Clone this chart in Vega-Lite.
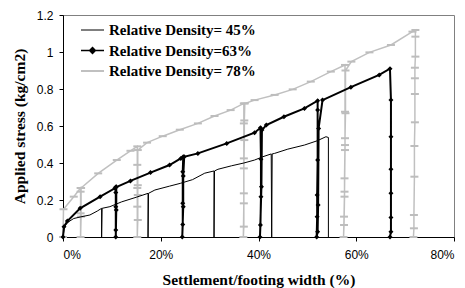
{
  "$schema": "https://vega.github.io/schema/vega-lite/v6.json",
  "width": 391,
  "height": 222,
  "autosize": {"type": "none"},
  "padding": {"left": 63, "top": 15, "right": 11, "bottom": 51},
  "background": "white",
  "config": {
    "view": {"stroke": "#808080", "strokeWidth": 1},
    "axis": {
      "grid": false,
      "domainColor": "black",
      "tickColor": "black",
      "tickSize": 4,
      "labelFont": "Liberation Sans",
      "labelFontSize": 12,
      "labelColor": "black",
      "titleFont": "Liberation Serif",
      "titleFontSize": 15.5,
      "titleFontWeight": "bold",
      "titleColor": "black"
    },
    "legend": {
      "orient": "none",
      "legendX": 22,
      "legendY": 7.5,
      "padding": 0,
      "labelFont": "Liberation Serif",
      "labelFontSize": 15,
      "labelFontWeight": "bold",
      "labelColor": "black",
      "symbolSize": 132.25,
      "labelOffset": 9,
      "rowPadding": 4.5
    }
  },
  "data": {
    "values": [
      {"s": "Relative Density= 45%", "i": 0, "x": 0, "y": 0},
      {"s": "Relative Density= 45%", "i": 1, "x": 0.3, "y": 0.056},
      {"s": "Relative Density= 45%", "i": 2, "x": 1.0, "y": 0.08},
      {"s": "Relative Density= 45%", "i": 3, "x": 2.2, "y": 0.1},
      {"s": "Relative Density= 45%", "i": 4, "x": 3.5, "y": 0.108},
      {"s": "Relative Density= 45%", "i": 5, "x": 5.5, "y": 0.119},
      {"s": "Relative Density= 45%", "i": 6, "x": 7.0, "y": 0.14},
      {"s": "Relative Density= 45%", "i": 7, "x": 7.9, "y": 0.155},
      {"s": "Relative Density= 45%", "i": 8, "x": 7.9, "y": 0},
      {"s": "Relative Density= 45%", "i": 9, "x": 8.0, "y": 0.155},
      {"s": "Relative Density= 45%", "i": 10, "x": 9.6, "y": 0.164},
      {"s": "Relative Density= 45%", "i": 11, "x": 12.0, "y": 0.19},
      {"s": "Relative Density= 45%", "i": 12, "x": 15.0, "y": 0.215},
      {"s": "Relative Density= 45%", "i": 13, "x": 17.4, "y": 0.236},
      {"s": "Relative Density= 45%", "i": 14, "x": 17.4, "y": 0},
      {"s": "Relative Density= 45%", "i": 15, "x": 17.5, "y": 0.236},
      {"s": "Relative Density= 45%", "i": 16, "x": 18.8, "y": 0.254},
      {"s": "Relative Density= 45%", "i": 17, "x": 21.8, "y": 0.275},
      {"s": "Relative Density= 45%", "i": 18, "x": 24.0, "y": 0.29},
      {"s": "Relative Density= 45%", "i": 19, "x": 26.5, "y": 0.31},
      {"s": "Relative Density= 45%", "i": 20, "x": 29.0, "y": 0.345},
      {"s": "Relative Density= 45%", "i": 21, "x": 30.9, "y": 0.357},
      {"s": "Relative Density= 45%", "i": 22, "x": 30.9, "y": 0},
      {"s": "Relative Density= 45%", "i": 23, "x": 31.0, "y": 0.357},
      {"s": "Relative Density= 45%", "i": 24, "x": 31.7, "y": 0.366},
      {"s": "Relative Density= 45%", "i": 25, "x": 34.5, "y": 0.385},
      {"s": "Relative Density= 45%", "i": 26, "x": 37.0, "y": 0.4},
      {"s": "Relative Density= 45%", "i": 27, "x": 39.2, "y": 0.416},
      {"s": "Relative Density= 45%", "i": 28, "x": 40.9, "y": 0.434},
      {"s": "Relative Density= 45%", "i": 29, "x": 42.6, "y": 0.449},
      {"s": "Relative Density= 45%", "i": 30, "x": 42.7, "y": 0},
      {"s": "Relative Density= 45%", "i": 31, "x": 42.8, "y": 0.449},
      {"s": "Relative Density= 45%", "i": 32, "x": 43.3, "y": 0.452},
      {"s": "Relative Density= 45%", "i": 33, "x": 46.0, "y": 0.475},
      {"s": "Relative Density= 45%", "i": 34, "x": 49.4, "y": 0.497},
      {"s": "Relative Density= 45%", "i": 35, "x": 52.0, "y": 0.52},
      {"s": "Relative Density= 45%", "i": 36, "x": 53.8, "y": 0.542},
      {"s": "Relative Density= 45%", "i": 37, "x": 54.3, "y": 0.538},
      {"s": "Relative Density= 45%", "i": 38, "x": 54.3, "y": 0},

      {"s": "Relative Density=63%", "i": 0, "x": 0, "y": 0},
      {"s": "Relative Density=63%", "i": 1, "x": 0.2, "y": 0.056},
      {"s": "Relative Density=63%", "i": 2, "x": 0.9, "y": 0.086},
      {"s": "Relative Density=63%", "i": 3, "x": 3.5, "y": 0.155},
      {"s": "Relative Density=63%", "i": 4, "x": 7.6, "y": 0.218},
      {"s": "Relative Density=63%", "i": 5, "x": 10.6, "y": 0.263},
      {"s": "Relative Density=63%", "i": 6, "x": 10.8, "y": 0.27},
      {"s": "Relative Density=63%", "i": 7, "x": 10.8, "y": 0.24},
      {"s": "Relative Density=63%", "i": 8, "x": 10.8, "y": 0.164},
      {"s": "Relative Density=63%", "i": 9, "x": 10.8, "y": 0.038},
      {"s": "Relative Density=63%", "i": 10, "x": 10.8, "y": 0},
      {"s": "Relative Density=63%", "i": 11, "x": 10.9, "y": 0.146},
      {"s": "Relative Density=63%", "i": 12, "x": 10.9, "y": 0.27},
      {"s": "Relative Density=63%", "i": 13, "x": 13.8, "y": 0.303},
      {"s": "Relative Density=63%", "i": 14, "x": 17.9, "y": 0.348},
      {"s": "Relative Density=63%", "i": 15, "x": 21.8, "y": 0.389},
      {"s": "Relative Density=63%", "i": 16, "x": 24.1, "y": 0.425},
      {"s": "Relative Density=63%", "i": 17, "x": 24.6, "y": 0.434},
      {"s": "Relative Density=63%", "i": 18, "x": 24.5, "y": 0.353},
      {"s": "Relative Density=63%", "i": 19, "x": 24.5, "y": 0.182},
      {"s": "Relative Density=63%", "i": 20, "x": 24.5, "y": 0.068},
      {"s": "Relative Density=63%", "i": 21, "x": 24.4, "y": 0},
      {"s": "Relative Density=63%", "i": 22, "x": 24.6, "y": 0.164},
      {"s": "Relative Density=63%", "i": 23, "x": 24.6, "y": 0.33},
      {"s": "Relative Density=63%", "i": 24, "x": 24.8, "y": 0.434},
      {"s": "Relative Density=63%", "i": 25, "x": 27.6, "y": 0.452},
      {"s": "Relative Density=63%", "i": 26, "x": 33.5, "y": 0.506},
      {"s": "Relative Density=63%", "i": 27, "x": 39.2, "y": 0.564},
      {"s": "Relative Density=63%", "i": 28, "x": 40.4, "y": 0.59},
      {"s": "Relative Density=63%", "i": 29, "x": 40.5, "y": 0.42},
      {"s": "Relative Density=63%", "i": 30, "x": 40.5, "y": 0.218},
      {"s": "Relative Density=63%", "i": 31, "x": 40.4, "y": 0.065},
      {"s": "Relative Density=63%", "i": 32, "x": 40.3, "y": 0},
      {"s": "Relative Density=63%", "i": 33, "x": 40.6, "y": 0.272},
      {"s": "Relative Density=63%", "i": 34, "x": 40.7, "y": 0.578},
      {"s": "Relative Density=63%", "i": 35, "x": 41.6, "y": 0.605},
      {"s": "Relative Density=63%", "i": 36, "x": 45.2, "y": 0.65},
      {"s": "Relative Density=63%", "i": 37, "x": 49.4, "y": 0.695},
      {"s": "Relative Density=63%", "i": 38, "x": 52.1, "y": 0.737},
      {"s": "Relative Density=63%", "i": 39, "x": 52.1, "y": 0.686},
      {"s": "Relative Density=63%", "i": 40, "x": 52.1, "y": 0.416},
      {"s": "Relative Density=63%", "i": 41, "x": 52.0, "y": 0.227},
      {"s": "Relative Density=63%", "i": 42, "x": 52.0, "y": 0.11},
      {"s": "Relative Density=63%", "i": 43, "x": 51.9, "y": 0},
      {"s": "Relative Density=63%", "i": 44, "x": 52.1, "y": 0.029},
      {"s": "Relative Density=63%", "i": 45, "x": 52.2, "y": 0.173},
      {"s": "Relative Density=63%", "i": 46, "x": 52.3, "y": 0.587},
      {"s": "Relative Density=63%", "i": 47, "x": 53.1, "y": 0.74},
      {"s": "Relative Density=63%", "i": 48, "x": 58.9, "y": 0.81},
      {"s": "Relative Density=63%", "i": 49, "x": 64.7, "y": 0.876},
      {"s": "Relative Density=63%", "i": 50, "x": 66.9, "y": 0.91},
      {"s": "Relative Density=63%", "i": 51, "x": 67.1, "y": 0.74},
      {"s": "Relative Density=63%", "i": 52, "x": 67.1, "y": 0.542},
      {"s": "Relative Density=63%", "i": 53, "x": 67.1, "y": 0.366},
      {"s": "Relative Density=63%", "i": 54, "x": 67.1, "y": 0.236},
      {"s": "Relative Density=63%", "i": 55, "x": 67.1, "y": 0.105},
      {"s": "Relative Density=63%", "i": 56, "x": 67.1, "y": 0.029},
      {"s": "Relative Density=63%", "i": 57, "x": 66.9, "y": 0},

      {"s": "Relative Density= 78%", "i": 0, "x": 0, "y": 0},
      {"s": "Relative Density= 78%", "i": 1, "x": 0.1, "y": 0.15},
      {"s": "Relative Density= 78%", "i": 2, "x": 2.2, "y": 0.218},
      {"s": "Relative Density= 78%", "i": 3, "x": 3.6, "y": 0.265},
      {"s": "Relative Density= 78%", "i": 4, "x": 3.6, "y": 0.245},
      {"s": "Relative Density= 78%", "i": 5, "x": 3.6, "y": 0.128},
      {"s": "Relative Density= 78%", "i": 6, "x": 3.6, "y": 0},
      {"s": "Relative Density= 78%", "i": 7, "x": 3.7, "y": 0.11},
      {"s": "Relative Density= 78%", "i": 8, "x": 3.7, "y": 0.265},
      {"s": "Relative Density= 78%", "i": 9, "x": 7.2, "y": 0.344},
      {"s": "Relative Density= 78%", "i": 10, "x": 11.0, "y": 0.416},
      {"s": "Relative Density= 78%", "i": 11, "x": 13.8, "y": 0.466},
      {"s": "Relative Density= 78%", "i": 12, "x": 15.2, "y": 0.49},
      {"s": "Relative Density= 78%", "i": 13, "x": 15.2, "y": 0.39},
      {"s": "Relative Density= 78%", "i": 14, "x": 15.2, "y": 0.265},
      {"s": "Relative Density= 78%", "i": 15, "x": 15.2, "y": 0.164},
      {"s": "Relative Density= 78%", "i": 16, "x": 15.2, "y": 0},
      {"s": "Relative Density= 78%", "i": 17, "x": 15.3, "y": 0.092},
      {"s": "Relative Density= 78%", "i": 18, "x": 15.3, "y": 0.227},
      {"s": "Relative Density= 78%", "i": 19, "x": 15.3, "y": 0.28},
      {"s": "Relative Density= 78%", "i": 20, "x": 15.3, "y": 0.47},
      {"s": "Relative Density= 78%", "i": 21, "x": 17.2, "y": 0.51},
      {"s": "Relative Density= 78%", "i": 22, "x": 20.4, "y": 0.545},
      {"s": "Relative Density= 78%", "i": 23, "x": 23.9, "y": 0.58},
      {"s": "Relative Density= 78%", "i": 24, "x": 27.6, "y": 0.614},
      {"s": "Relative Density= 78%", "i": 25, "x": 31.0, "y": 0.654},
      {"s": "Relative Density= 78%", "i": 26, "x": 34.3, "y": 0.686},
      {"s": "Relative Density= 78%", "i": 27, "x": 37.0, "y": 0.722},
      {"s": "Relative Density= 78%", "i": 28, "x": 37.0, "y": 0.614},
      {"s": "Relative Density= 78%", "i": 29, "x": 37.0, "y": 0.425},
      {"s": "Relative Density= 78%", "i": 30, "x": 37.0, "y": 0.236},
      {"s": "Relative Density= 78%", "i": 31, "x": 37.0, "y": 0.056},
      {"s": "Relative Density= 78%", "i": 32, "x": 36.9, "y": 0},
      {"s": "Relative Density= 78%", "i": 33, "x": 37.0, "y": 0.182},
      {"s": "Relative Density= 78%", "i": 34, "x": 37.0, "y": 0.371},
      {"s": "Relative Density= 78%", "i": 35, "x": 37.1, "y": 0.524},
      {"s": "Relative Density= 78%", "i": 36, "x": 37.1, "y": 0.63},
      {"s": "Relative Density= 78%", "i": 37, "x": 37.2, "y": 0.722},
      {"s": "Relative Density= 78%", "i": 38, "x": 39.2, "y": 0.74},
      {"s": "Relative Density= 78%", "i": 39, "x": 43.3, "y": 0.768},
      {"s": "Relative Density= 78%", "i": 40, "x": 47.0, "y": 0.798},
      {"s": "Relative Density= 78%", "i": 41, "x": 50.7, "y": 0.84},
      {"s": "Relative Density= 78%", "i": 42, "x": 54.8, "y": 0.894},
      {"s": "Relative Density= 78%", "i": 43, "x": 57.7, "y": 0.93},
      {"s": "Relative Density= 78%", "i": 44, "x": 57.7, "y": 0.677},
      {"s": "Relative Density= 78%", "i": 45, "x": 57.7, "y": 0.497},
      {"s": "Relative Density= 78%", "i": 46, "x": 57.6, "y": 0.317},
      {"s": "Relative Density= 78%", "i": 47, "x": 57.6, "y": 0.218},
      {"s": "Relative Density= 78%", "i": 48, "x": 57.5, "y": 0.065},
      {"s": "Relative Density= 78%", "i": 49, "x": 57.4, "y": 0},
      {"s": "Relative Density= 78%", "i": 50, "x": 57.5, "y": 0.11},
      {"s": "Relative Density= 78%", "i": 51, "x": 57.6, "y": 0.245},
      {"s": "Relative Density= 78%", "i": 52, "x": 57.7, "y": 0.47},
      {"s": "Relative Density= 78%", "i": 53, "x": 57.7, "y": 0.534},
      {"s": "Relative Density= 78%", "i": 54, "x": 57.8, "y": 0.669},
      {"s": "Relative Density= 78%", "i": 55, "x": 57.8, "y": 0.9},
      {"s": "Relative Density= 78%", "i": 56, "x": 59.0, "y": 0.948},
      {"s": "Relative Density= 78%", "i": 57, "x": 62.7, "y": 0.998},
      {"s": "Relative Density= 78%", "i": 58, "x": 67.1, "y": 1.038},
      {"s": "Relative Density= 78%", "i": 59, "x": 71.5, "y": 1.11},
      {"s": "Relative Density= 78%", "i": 60, "x": 72.1, "y": 1.119},
      {"s": "Relative Density= 78%", "i": 61, "x": 72.1, "y": 1.083},
      {"s": "Relative Density= 78%", "i": 62, "x": 72.1, "y": 0.975},
      {"s": "Relative Density= 78%", "i": 63, "x": 72.0, "y": 0.915},
      {"s": "Relative Density= 78%", "i": 64, "x": 72.0, "y": 0.858},
      {"s": "Relative Density= 78%", "i": 65, "x": 72.0, "y": 0.773},
      {"s": "Relative Density= 78%", "i": 66, "x": 72.0, "y": 0.62},
      {"s": "Relative Density= 78%", "i": 67, "x": 71.9, "y": 0.492},
      {"s": "Relative Density= 78%", "i": 68, "x": 71.9, "y": 0.326},
      {"s": "Relative Density= 78%", "i": 69, "x": 71.8, "y": 0.119},
      {"s": "Relative Density= 78%", "i": 70, "x": 71.8, "y": 0.047},
      {"s": "Relative Density= 78%", "i": 71, "x": 71.7, "y": 0}
    ]
  },
  "encoding": {
    "x": {
      "field": "x",
      "type": "quantitative",
      "scale": {"domain": [0, 80], "nice": false},
      "axis": {
        "values": [0, 20, 40, 60, 80],
        "labelExpr": "datum.value + '%'",
        "labelPadding": 8,
        "title": "Settlement/footing width (%)",
        "titlePadding": 12
      }
    },
    "y": {
      "field": "y",
      "type": "quantitative",
      "scale": {"domain": [0, 1.2], "nice": false},
      "axis": {
        "values": [0, 0.2, 0.4, 0.6, 0.8, 1, 1.2],
        "format": "~g",
        "labelPadding": 6,
        "title": "Applied stress (kg/cm2)",
        "titlePadding": 8.5
      }
    }
  },
  "layer": [
    {
      "transform": [{"filter": "datum.s == 'Relative Density= 78%'"}],
      "mark": {"type": "line", "color": "#c0c0c0", "strokeWidth": 1.5},
      "encoding": {"order": {"field": "i", "type": "quantitative"}}
    },
    {
      "transform": [{"filter": "datum.s == 'Relative Density= 78%'"}],
      "mark": {"type": "point", "shape": "stroke", "filled": false, "stroke": "#bdbdbd", "strokeWidth": 2, "size": 64, "opacity": 1}
    },
    {
      "transform": [{"filter": "datum.s == 'Relative Density= 45%'"}],
      "mark": {"type": "line", "color": "black", "strokeWidth": 1},
      "encoding": {"order": {"field": "i", "type": "quantitative"}}
    },
    {
      "transform": [{"filter": "datum.s == 'Relative Density=63%'"}],
      "mark": {"type": "line", "color": "black", "strokeWidth": 2},
      "encoding": {"order": {"field": "i", "type": "quantitative"}}
    },
    {
      "transform": [{"filter": "datum.s == 'Relative Density=63%'"}],
      "mark": {"type": "point", "shape": "diamond", "filled": true, "color": "black", "size": 25, "opacity": 1}
    },
    {
      "transform": [{"filter": "datum.i < 0"}],
      "mark": {"type": "point", "filled": true, "opacity": 1},
      "encoding": {
        "fill": {
          "field": "s", "type": "nominal",
          "scale": {"domain": ["Relative Density= 45%", "Relative Density=63%", "Relative Density= 78%"], "range": ["black", "black", "#c0c0c0"]},
          "legend": {"title": null}
        },
        "stroke": {
          "field": "s", "type": "nominal",
          "scale": {"domain": ["Relative Density= 45%", "Relative Density=63%", "Relative Density= 78%"], "range": ["black", "black", "#c0c0c0"]},
          "legend": {"title": null}
        },
        "shape": {
          "field": "s", "type": "nominal",
          "scale": {"domain": ["Relative Density= 45%", "Relative Density=63%", "Relative Density= 78%"], "range": ["M-2,0H2", "M-2,0H2M0,-0.5L0.5,0L0,0.5L-0.5,0Z", "M-2,0H2M-0.7,0H0.7"]},
          "legend": {"title": null}
        },
        "strokeWidth": {
          "field": "s", "type": "nominal",
          "scale": {"domain": ["Relative Density= 45%", "Relative Density=63%", "Relative Density= 78%"], "range": [1, 2, 1.5]},
          "legend": {"title": null}
        }
      }
    }
  ]
}
